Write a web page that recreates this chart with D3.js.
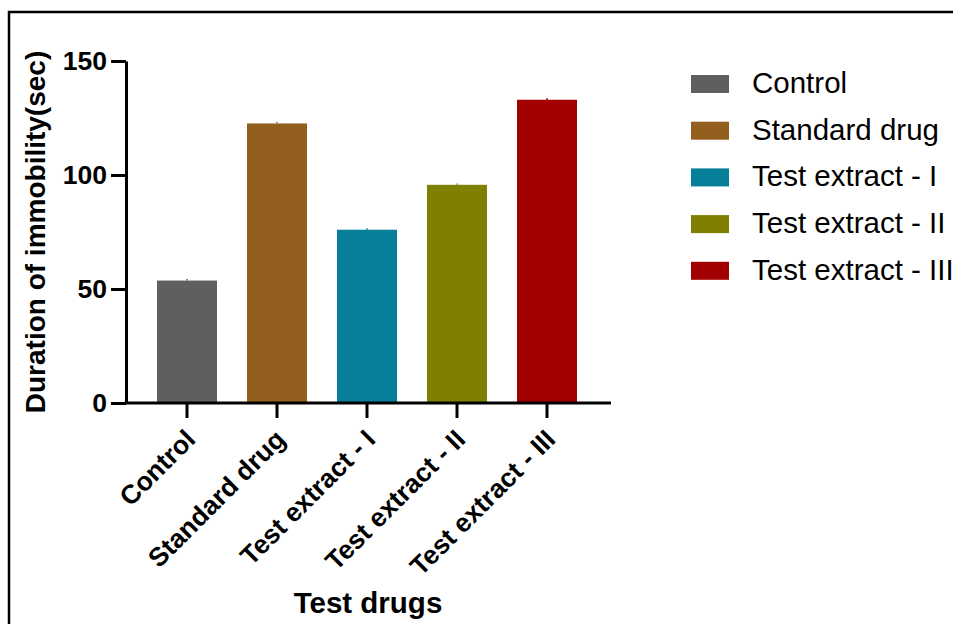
<!DOCTYPE html>
<html>
<head>
<meta charset="utf-8">
<script src="https://cdn.jsdelivr.net/npm/d3@7"></script>
<style>
  body { margin: 0; background: #fff; }
  text { font-family: "Liberation Sans", Arial, sans-serif; }
</style>
</head>
<body>
<div id="chart"></div>
<script>
// data
const groups = ["Control", "Standard drug", "Test extract - I", "Test extract - II", "Test extract - III"];
const means = [53.7, 122.6, 76.0, 95.7, 133.0];
const errors = [0.7, 0.6, 0.6, 0.6, 0.8];
const colors = ["#5f5f5f", "#925f1f", "#077f99", "#7f7f00", "#a20000"];
const yTicks = [0, 50, 100, 150];

let width = 953, height = 624;

let svg = d3.select("#chart")
    .append("svg")
    .attr("width", width)
    .attr("height", height);

// outer frame (runs off right/bottom edge)
svg.append("rect")
    .attr("x", 9).attr("y", 12)
    .attr("width", 1000).attr("height", 700)
    .attr("fill", "none")
    .attr("stroke", "#000")
    .attr("stroke-width", 2.5);

// scales
let x = d3.scaleBand()
    .domain(groups)
    .range([142, 592])
    .paddingInner(1/3)
    .paddingOuter(1/6);

let y = d3.scaleLinear()
    .domain([0, 150])
    .range([403, 61]);

// bars
svg.append("g")
    .selectAll("rect")
    .data(groups)
    .enter()
    .append("rect")
    .attr("x", d => x(d))
    .attr("y", (d, i) => y(means[i]))
    .attr("width", x.bandwidth())
    .attr("height", (d, i) => y(0) - y(means[i]))
    .attr("fill", (d, i) => colors[i]);

// error bars (tiny)
svg.append("g")
    .selectAll("line")
    .data(groups)
    .enter()
    .append("line")
    .attr("x1", d => x(d) + x.bandwidth() / 2)
    .attr("x2", d => x(d) + x.bandwidth() / 2)
    .attr("y1", (d, i) => y(means[i]))
    .attr("y2", (d, i) => y(means[i] + errors[i]))
    .attr("stroke", (d, i) => colors[i])
    .attr("stroke-width", 1.5);

// y axis
let yAxis = svg.append("g")
    .attr("transform", "translate(126,0)")
    .call(d3.axisLeft(y).tickValues(yTicks).tickSize(15).tickPadding(4).tickSizeOuter(0));
yAxis.select(".domain").attr("stroke-width", 3);
yAxis.selectAll(".tick line").attr("stroke-width", 3);
yAxis.selectAll(".tick text")
    .attr("font-size", 26.5)
    .attr("font-weight", "bold")
    .attr("font-family", "Liberation Sans, Arial, sans-serif")
    .attr("fill", "#000");

// x axis
svg.append("line")
    .attr("x1", 124.5).attr("x2", 611)
    .attr("y1", y(0)).attr("y2", y(0))
    .attr("stroke", "#000")
    .attr("stroke-width", 3);

let xAxis = svg.append("g")
    .attr("transform", "translate(0," + y(0) + ")")
    .call(d3.axisBottom(x).tickSize(15).tickSizeOuter(0));
xAxis.select(".domain").remove();
xAxis.selectAll(".tick line").attr("stroke-width", 3);
xAxis.selectAll(".tick text")
    .attr("font-size", 26.5)
    .attr("font-weight", "bold")
    .attr("font-family", "Liberation Sans, Arial, sans-serif")
    .attr("fill", "#000")
    .attr("text-anchor", "end")
    .attr("dy", null)
    .attr("y", 0)
    .attr("transform", "translate(10,38) rotate(-45)");

// axis titles
svg.append("text")
    .attr("transform", "translate(45," + (y(75)) + ") rotate(-90)")
    .attr("text-anchor", "middle")
    .attr("font-size", 28)
    .attr("font-weight", "bold")
    .text("Duration of immobility(sec)");

svg.append("text")
    .attr("x", 368)
    .attr("y", 613)
    .attr("text-anchor", "middle")
    .attr("font-size", 29.5)
    .attr("font-weight", "bold")
    .text("Test drugs");

// legend
let legend = svg.append("g")
    .attr("transform", "translate(691,75)");

let item = legend.selectAll("g")
    .data(groups)
    .enter()
    .append("g")
    .attr("transform", (d, i) => "translate(0," + (i * 46.7) + ")");

item.append("rect")
    .attr("width", 38)
    .attr("height", 18)
    .attr("fill", (d, i) => colors[i]);

item.append("text")
    .attr("x", 61)
    .attr("y", 18)
    .attr("font-size", 29.5)
    .text(d => d);
</script>
</body>
</html>
